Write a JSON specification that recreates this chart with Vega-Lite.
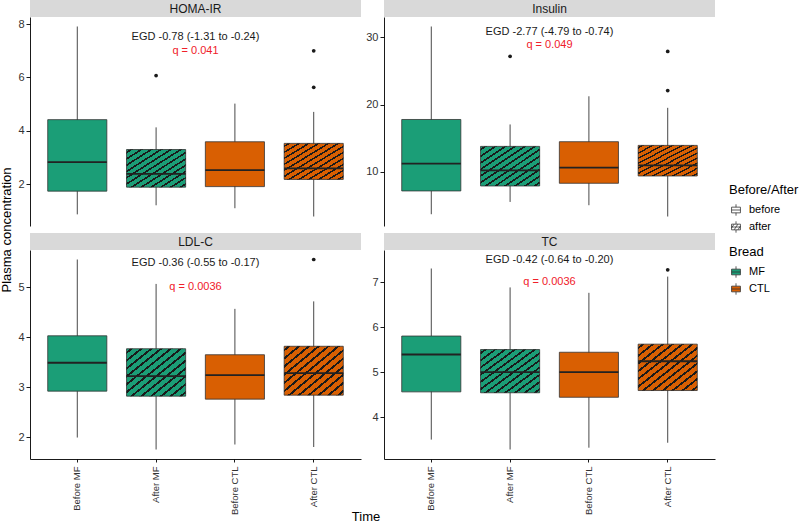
{
  "$schema": "https://vega.github.io/schema/vega-lite/v6.json",
  "background": "white",
  "padding": {"left": 0, "top": 0, "right": 0, "bottom": 0},
  "config": {
    "font": "Liberation Sans",
    "view": {"stroke": null},
    "axis": {"domainColor": "#000", "domainWidth": 0.9, "tickColor": "#000", "tickWidth": 0.9, "tickSize": 4, "labelColor": "#333", "labelFontSize": 11, "grid": false, "labelPadding": 2},
    "axisX": {"labelFontSize": 9.5, "labelAngle": -90, "labelPadding": 4, "tickSize": 3},
    "header": {"titleFontSize": 13, "titleFontWeight": "normal", "titleColor": "#000", "labels": false},
    "legend": {"titleFontSize": 13, "titleFontWeight": "normal", "titleColor": "#000", "labelFontSize": 11, "labelColor": "#000", "symbolSize": 160, "rowPadding": 1, "titlePadding": 6, "labelOffset": 6}
  },
  "data": {"values": [
    {"kind": "box", "panel": "HOMA-IR", "group": "Glycaemic", "index": "1", "time": "Before MF", "bread": "MF", "phase": "before", "lo": 0.87, "q1": 1.74, "med": 2.83, "q3": 4.42, "hi": 7.91},
    {"kind": "box", "panel": "HOMA-IR", "group": "Glycaemic", "index": "1", "time": "After MF", "bread": "MF", "phase": "after", "lo": 1.21, "q1": 1.89, "med": 2.39, "q3": 3.30, "hi": 4.13},
    {"kind": "box", "panel": "HOMA-IR", "group": "Glycaemic", "index": "1", "time": "Before CTL", "bread": "CTL", "phase": "before", "lo": 1.10, "q1": 1.91, "med": 2.53, "q3": 3.59, "hi": 5.02},
    {"kind": "box", "panel": "HOMA-IR", "group": "Glycaemic", "index": "1", "time": "After CTL", "bread": "CTL", "phase": "after", "lo": 0.79, "q1": 2.18, "med": 2.59, "q3": 3.53, "hi": 4.71},
    {"kind": "out", "panel": "HOMA-IR", "group": "Glycaemic", "index": "1", "time": "After MF", "val": 6.07},
    {"kind": "out", "panel": "HOMA-IR", "group": "Glycaemic", "index": "1", "time": "After CTL", "val": 7.00},
    {"kind": "out", "panel": "HOMA-IR", "group": "Glycaemic", "index": "1", "time": "After CTL", "val": 5.63},
    {"kind": "egd", "panel": "HOMA-IR", "group": "Glycaemic", "index": "1", "val": 7.5, "label": "EGD -0.78 (-1.31 to -0.24)"},
    {"kind": "q", "panel": "HOMA-IR", "group": "Glycaemic", "index": "1", "val": 6.98, "label": "q = 0.041"},

    {"kind": "box", "panel": "Insulin", "group": "Glycaemic", "index": "2", "time": "Before MF", "bread": "MF", "phase": "before", "lo": 3.65, "q1": 7.12, "med": 11.19, "q3": 17.77, "hi": 31.63},
    {"kind": "box", "panel": "Insulin", "group": "Glycaemic", "index": "2", "time": "After MF", "bread": "MF", "phase": "after", "lo": 5.48, "q1": 7.86, "med": 10.19, "q3": 13.76, "hi": 17.03},
    {"kind": "box", "panel": "Insulin", "group": "Glycaemic", "index": "2", "time": "Before CTL", "bread": "CTL", "phase": "before", "lo": 4.99, "q1": 8.26, "med": 10.59, "q3": 14.46, "hi": 21.23},
    {"kind": "box", "panel": "Insulin", "group": "Glycaemic", "index": "2", "time": "After CTL", "bread": "CTL", "phase": "after", "lo": 3.31, "q1": 9.35, "med": 10.94, "q3": 13.91, "hi": 19.51},
    {"kind": "out", "panel": "Insulin", "group": "Glycaemic", "index": "2", "time": "After MF", "val": 27.18},
    {"kind": "out", "panel": "Insulin", "group": "Glycaemic", "index": "2", "time": "After CTL", "val": 27.92},
    {"kind": "out", "panel": "Insulin", "group": "Glycaemic", "index": "2", "time": "After CTL", "val": 22.08},
    {"kind": "egd", "panel": "Insulin", "group": "Glycaemic", "index": "2", "val": 30.8, "label": "EGD -2.77 (-4.79 to -0.74)"},
    {"kind": "q", "panel": "Insulin", "group": "Glycaemic", "index": "2", "val": 28.9, "label": "q = 0.049"},

    {"kind": "box", "panel": "LDL-C", "group": "Lipid", "index": "1", "time": "Before MF", "bread": "MF", "phase": "before", "lo": 1.99, "q1": 2.92, "med": 3.49, "q3": 4.03, "hi": 5.56},
    {"kind": "box", "panel": "LDL-C", "group": "Lipid", "index": "1", "time": "After MF", "bread": "MF", "phase": "after", "lo": 1.75, "q1": 2.82, "med": 3.22, "q3": 3.77, "hi": 5.07},
    {"kind": "box", "panel": "LDL-C", "group": "Lipid", "index": "1", "time": "Before CTL", "bread": "CTL", "phase": "before", "lo": 1.85, "q1": 2.76, "med": 3.24, "q3": 3.65, "hi": 4.57},
    {"kind": "box", "panel": "LDL-C", "group": "Lipid", "index": "1", "time": "After CTL", "bread": "CTL", "phase": "after", "lo": 1.80, "q1": 2.84, "med": 3.28, "q3": 3.82, "hi": 4.72},
    {"kind": "out", "panel": "LDL-C", "group": "Lipid", "index": "1", "time": "After CTL", "val": 5.56},
    {"kind": "egd", "panel": "LDL-C", "group": "Lipid", "index": "1", "val": 5.49, "label": "EGD -0.36 (-0.55 to -0.17)"},
    {"kind": "q", "panel": "LDL-C", "group": "Lipid", "index": "1", "val": 5.0, "label": "q = 0.0036"},

    {"kind": "box", "panel": "TC", "group": "Lipid", "index": "2", "time": "Before MF", "bread": "MF", "phase": "before", "lo": 3.50, "q1": 4.56, "med": 5.39, "q3": 5.80, "hi": 7.30},
    {"kind": "box", "panel": "TC", "group": "Lipid", "index": "2", "time": "After MF", "bread": "MF", "phase": "after", "lo": 3.28, "q1": 4.54, "med": 5.00, "q3": 5.50, "hi": 6.88},
    {"kind": "box", "panel": "TC", "group": "Lipid", "index": "2", "time": "Before CTL", "bread": "CTL", "phase": "before", "lo": 3.32, "q1": 4.44, "med": 5.00, "q3": 5.44, "hi": 6.76},
    {"kind": "box", "panel": "TC", "group": "Lipid", "index": "2", "time": "After CTL", "bread": "CTL", "phase": "after", "lo": 3.43, "q1": 4.59, "med": 5.24, "q3": 5.62, "hi": 7.12},
    {"kind": "out", "panel": "TC", "group": "Lipid", "index": "2", "time": "After CTL", "val": 7.27},
    {"kind": "egd", "panel": "TC", "group": "Lipid", "index": "2", "val": 7.5, "label": "EGD -0.42 (-0.64 to -0.20)"},
    {"kind": "q", "panel": "TC", "group": "Lipid", "index": "2", "val": 6.99, "label": "q = 0.0036"}
  ]},
  "facet": {
    "row": {"field": "group", "type": "nominal", "header": {"title": "Plasma concentration", "labels": false, "titlePadding": -7}},
    "column": {"field": "index", "type": "nominal", "header": {"title": "Time", "labels": false, "titleOrient": "bottom", "titlePadding": -14}}
  },
  "bounds": "full",
  "spacing": {"row": 7, "column": 4},
  "resolve": {"scale": {"y": "independent"}},
  "spec": {
    "width": 331,
    "height": 209,
    "layer": [
      {
        "transform": [{"filter": "datum.kind === 'egd'"}],
        "mark": {"type": "rect", "fill": "#d9d9d9", "clip": false},
        "encoding": {"x": {"value": 0}, "x2": {"value": "width"}, "y": {"value": -17}, "y2": {"value": 0}}
      },
      {
        "transform": [{"filter": "datum.kind === 'egd'"}],
        "mark": {"type": "text", "y": -8.5, "fontSize": 12, "color": "#1a1a1a", "baseline": "middle", "align": "center"},
        "encoding": {
          "x": {"datum": "After MF", "type": "nominal", "bandPosition": 1.1667},
          "text": {"field": "panel"}
        }
      },
      {
        "transform": [{"filter": "datum.kind === 'box'"}],
        "mark": {"type": "rule", "color": "#333", "strokeWidth": 0.9},
        "encoding": {
          "x": {"field": "time", "type": "nominal", "title": null, "scale": {"type": "band", "domain": ["Before MF", "After MF", "Before CTL", "After CTL"], "paddingInner": 0.25, "paddingOuter": 0.225}},
          "y": {"field": "lo", "type": "quantitative", "title": null, "scale": {"zero": false, "nice": false, "padding": 9.5}, "axis": {"tickCount": 4}},
          "y2": {"field": "hi"}
        }
      },
      {
        "transform": [{"filter": "datum.kind === 'box'"}],
        "mark": {"type": "bar", "stroke": "#333", "strokeWidth": 0.8},
        "encoding": {
          "x": {"field": "time", "type": "nominal", "title": null},
          "y": {"field": "q1", "type": "quantitative", "title": null},
          "y2": {"field": "q3"},
          "fill": {"field": "bread", "type": "nominal", "scale": {"domain": ["MF", "CTL"], "range": ["#1b9e77", "#d95f02"]},
            "legend": {"title": "Bread", "orient": "none", "legendX": 699, "legendY": 229, "symbolType": "M-0.7,-0.45H0.7V0.45H-0.7Z M-0.7,0H0.7 M0,-0.45V-0.9 M0,0.45V0.9", "symbolStrokeColor": "#333", "symbolStrokeWidth": 0.8}}
        }
      },
      {
        "transform": [{"filter": "datum.kind === 'box' && datum.phase === 'after'"}],
        "mark": {"type": "bar", "strokeWidth": 0, "fill": {"gradient": "linear", "x1": 0, "y1": 0, "x2": 1, "y2": 1, "stops": [
          {"offset": 0, "color": "rgba(0,0,0,0)"},
          {"offset": 0.029, "color": "rgba(0,0,0,0)"}, {"offset": 0.029, "color": "#1a1a1a"}, {"offset": 0.054, "color": "#1a1a1a"}, {"offset": 0.054, "color": "rgba(0,0,0,0)"},
          {"offset": 0.1125, "color": "rgba(0,0,0,0)"}, {"offset": 0.1125, "color": "#1a1a1a"}, {"offset": 0.1375, "color": "#1a1a1a"}, {"offset": 0.1375, "color": "rgba(0,0,0,0)"},
          {"offset": 0.196, "color": "rgba(0,0,0,0)"}, {"offset": 0.196, "color": "#1a1a1a"}, {"offset": 0.221, "color": "#1a1a1a"}, {"offset": 0.221, "color": "rgba(0,0,0,0)"},
          {"offset": 0.279, "color": "rgba(0,0,0,0)"}, {"offset": 0.279, "color": "#1a1a1a"}, {"offset": 0.304, "color": "#1a1a1a"}, {"offset": 0.304, "color": "rgba(0,0,0,0)"},
          {"offset": 0.3625, "color": "rgba(0,0,0,0)"}, {"offset": 0.3625, "color": "#1a1a1a"}, {"offset": 0.3875, "color": "#1a1a1a"}, {"offset": 0.3875, "color": "rgba(0,0,0,0)"},
          {"offset": 0.446, "color": "rgba(0,0,0,0)"}, {"offset": 0.446, "color": "#1a1a1a"}, {"offset": 0.471, "color": "#1a1a1a"}, {"offset": 0.471, "color": "rgba(0,0,0,0)"},
          {"offset": 0.529, "color": "rgba(0,0,0,0)"}, {"offset": 0.529, "color": "#1a1a1a"}, {"offset": 0.554, "color": "#1a1a1a"}, {"offset": 0.554, "color": "rgba(0,0,0,0)"},
          {"offset": 0.6125, "color": "rgba(0,0,0,0)"}, {"offset": 0.6125, "color": "#1a1a1a"}, {"offset": 0.6375, "color": "#1a1a1a"}, {"offset": 0.6375, "color": "rgba(0,0,0,0)"},
          {"offset": 0.696, "color": "rgba(0,0,0,0)"}, {"offset": 0.696, "color": "#1a1a1a"}, {"offset": 0.721, "color": "#1a1a1a"}, {"offset": 0.721, "color": "rgba(0,0,0,0)"},
          {"offset": 0.779, "color": "rgba(0,0,0,0)"}, {"offset": 0.779, "color": "#1a1a1a"}, {"offset": 0.804, "color": "#1a1a1a"}, {"offset": 0.804, "color": "rgba(0,0,0,0)"},
          {"offset": 0.8625, "color": "rgba(0,0,0,0)"}, {"offset": 0.8625, "color": "#1a1a1a"}, {"offset": 0.8875, "color": "#1a1a1a"}, {"offset": 0.8875, "color": "rgba(0,0,0,0)"},
          {"offset": 0.946, "color": "rgba(0,0,0,0)"}, {"offset": 0.946, "color": "#1a1a1a"}, {"offset": 0.971, "color": "#1a1a1a"}, {"offset": 0.971, "color": "rgba(0,0,0,0)"},
          {"offset": 1, "color": "rgba(0,0,0,0)"}
        ]}},
        "encoding": {
          "x": {"field": "time", "type": "nominal", "title": null},
          "y": {"field": "q1", "type": "quantitative", "title": null},
          "y2": {"field": "q3"}
        }
      },
      {
        "transform": [{"filter": "datum.kind === 'box'"}],
        "mark": {"type": "bar", "fill": null, "stroke": "#222", "strokeWidth": 1.8},
        "encoding": {
          "x": {"field": "time", "type": "nominal", "title": null},
          "y": {"field": "med", "type": "quantitative", "title": null},
          "y2": {"field": "med"}
        }
      },
      {
        "transform": [{"filter": "datum.kind === 'out'"}],
        "mark": {"type": "point", "filled": true, "color": "#1a1a1a", "size": 14, "opacity": 1},
        "encoding": {
          "x": {"field": "time", "type": "nominal", "title": null},
          "y": {"field": "val", "type": "quantitative", "title": null}
        }
      },
      {
        "transform": [{"filter": "datum.kind === 'box'"}],
        "mark": {"type": "point", "opacity": 0},
        "encoding": {
          "x": {"field": "time", "type": "nominal", "title": null},
          "y": {"field": "med", "type": "quantitative", "title": null},
          "shape": {"field": "phase", "type": "nominal", "scale": {"domain": ["before", "after"], "range": [
            "M-0.7,-0.45H0.7V0.45H-0.7Z M-0.7,0H0.7 M0,-0.45V-0.9 M0,0.45V0.9",
            "M-0.7,-0.45H0.7V0.45H-0.7Z M-0.7,0H0.7 M0,-0.45V-0.9 M0,0.45V0.9 M-0.7,0.15L-0.3,-0.45 M-0.3,0.45L0.3,-0.45 M0.3,0.45L0.7,-0.15"
          ]}, "legend": {"title": "Before/After", "orient": "none", "legendX": 699, "legendY": 167, "symbolFillColor": "white", "symbolStrokeColor": "#333", "symbolStrokeWidth": 0.8, "symbolOpacity": 1}}
        }
      },
      {
        "transform": [{"filter": "datum.kind === 'egd' || datum.kind === 'q'"}],
        "mark": {"type": "text", "fontSize": 11, "baseline": "middle", "align": "center"},
        "encoding": {
          "x": {"datum": "After MF", "type": "nominal", "bandPosition": 1.1667},
          "y": {"field": "val", "type": "quantitative", "title": null},
          "text": {"field": "label"},
          "color": {"condition": {"test": "datum.kind === 'q'", "value": "#f0202a"}, "value": "#1a1a1a"}
        }
      }
    ]
  }
}
